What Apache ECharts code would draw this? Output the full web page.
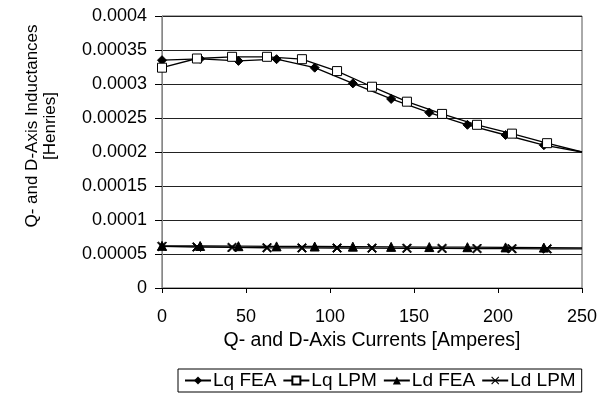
<!DOCTYPE html>
<html>
<head>
<meta charset="utf-8">
<script src="https://cdn.jsdelivr.net/npm/echarts@6/dist/echarts.min.js"></script>
<style>
  html, body { margin: 0; padding: 0; background: #fff; }
  #main { width: 609px; height: 401px; }
</style>
</head>
<body>
<div id="main"></div>
<script>
// FEA points (12 per curve), LPM points (13 per curve)
var feaCurrents = [0, 22.7, 45.5, 68.2, 90.9, 113.6, 136.4, 159.1, 181.8, 204.5, 227.3, 250];
var lpmCurrents = [0, 20.8, 41.7, 62.5, 83.3, 104.2, 125, 145.8, 166.7, 187.5, 208.3, 229.2, 250];

var lqFEA = [0.000335, 0.000337, 0.000334, 0.0003365, 0.000324, 0.0003009, 0.000278, 0.000258, 0.00024, 0.000225, 0.00021, 0.0002];
var lqLPM = [0.000324, 0.0003375, 0.00034, 0.00034, 0.0003365, 0.000319, 0.000296, 0.000274, 0.000256, 0.00024, 0.000227, 0.000213, 0.0002];
var ldFEA = [0.000062, 0.0000618, 0.0000615, 0.0000612, 0.000061, 0.0000608, 0.0000605, 0.0000602, 0.00006, 0.0000597, 0.0000594, 0.000059];
var ldLPM = [0.0000612, 0.0000603, 0.0000596, 0.0000592, 0.000059, 0.0000588, 0.0000586, 0.0000584, 0.0000582, 0.000058, 0.0000578, 0.0000576, 0.0000574];

var seriesNames = ["Lq FEA", "Lq LPM", "Ld FEA", "Ld LPM"];
var xTicks = [0, 50, 100, 150, 200, 250];
var yTickLabels = ["0", "0.00005", "0.0001", "0.00015", "0.0002", "0.00025", "0.0003", "0.00035", "0.0004"];

var FONT = "Liberation Sans";
var crossPath = "path://M0,1L1,0L5,4L9,0L10,1L6,5L10,9L9,10L5,6L1,10L0,9L4,5Z";

// last point of every curve sits on the right border, drawn without a marker
function pairs(xs, ys) {
  return xs.map(function (x, i) {
    var item = { value: [x, ys[i]] };
    if (i === xs.length - 1) item.symbol = "none";
    return item;
  });
}

var chart = echarts.init(document.getElementById("main"));

var option = {
  animation: false,
  backgroundColor: "#fff",
  textStyle: { fontFamily: FONT, color: "#000" },
  grid: {
    left: 162, right: 27, top: 16, bottom: 113,
    show: true, borderColor: "#555", borderWidth: 1
  },
  graphic: [
    {
      type: "text", x: 32, y: 126, rotation: Math.PI / 2,
      style: {
        text: "Q- and D-Axis Inductances",
        fontFamily: FONT, fontSize: 17, fill: "#000",
        align: "center", verticalAlign: "middle"
      }
    },
    {
      type: "text", x: 50, y: 126, rotation: Math.PI / 2,
      style: {
        text: "[Henries]",
        fontFamily: FONT, fontSize: 17, fill: "#000",
        align: "center", verticalAlign: "middle"
      }
    }
  ],
  legend: {
    data: seriesNames,
    left: 178, top: 369,
    itemGap: 6,
    itemWidth: 26, itemHeight: 10,
    borderColor: "#000", borderWidth: 1, borderRadius: 0,
    padding: [2, 6],
    textStyle: { fontFamily: FONT, fontSize: 19, color: "#000", padding: [0, 0, 0, -3] }
  },
  xAxis: {
    type: "value",
    min: 0, max: 250, interval: 50,
    name: "Q- and D-Axis Currents [Amperes]",
    nameLocation: "middle",
    nameGap: 24,
    nameTextStyle: { fontFamily: FONT, fontSize: 19.5, color: "#000" },
    axisLine: { lineStyle: { color: "#000", width: 1 } },
    axisTick: { show: true, length: 5, lineStyle: { color: "#000" } },
    axisLabel: {
      margin: 20, fontFamily: FONT, fontSize: 18, color: "#000",
      formatter: function (v) { return xTicks.indexOf(v) >= 0 ? String(v) : ""; }
    },
    splitLine: { show: false }
  },
  yAxis: {
    type: "value",
    min: 0, max: 0.0004, interval: 0.00005,
    axisLine: { show: true, lineStyle: { color: "#888", width: 1 } },
    axisTick: { show: true, length: 7, lineStyle: { color: "#000" } },
    axisLabel: {
      margin: 15, fontFamily: FONT, fontSize: 18, color: "#000",
      formatter: function (v) { return yTickLabels[Math.round(v / 0.00005)]; }
    },
    splitLine: { show: true, lineStyle: { color: "#222", width: 1 } }
  },
  series: [
    {
      name: "Lq FEA", type: "line",
      data: pairs(feaCurrents, lqFEA),
      symbol: "diamond", symbolSize: 9,
      lineStyle: { color: "#000", width: 1.3 },
      itemStyle: { color: "#000", borderColor: "#000" },
      clip: false
    },
    {
      name: "Lq LPM", type: "line",
      data: pairs(lpmCurrents, lqLPM),
      symbol: "rect", symbolSize: 9, showAllSymbol: true,
      lineStyle: { color: "#000", width: 1.3 },
      itemStyle: { color: "#fff", borderColor: "#000", borderWidth: 1 },
      clip: false
    },
    {
      name: "Ld FEA", type: "line",
      data: pairs(feaCurrents, ldFEA),
      symbol: "triangle", symbolSize: 9,
      lineStyle: { color: "#000", width: 1.3 },
      itemStyle: { color: "#000", borderColor: "#000" },
      clip: false
    },
    {
      name: "Ld LPM", type: "line",
      data: pairs(lpmCurrents, ldLPM),
      symbol: crossPath, symbolSize: 9,
      lineStyle: { color: "#000", width: 1.3 },
      itemStyle: { color: "#000", borderColor: "#000" },
      clip: false
    }
  ]
};

chart.setOption(option);
</script>
</body>
</html>
